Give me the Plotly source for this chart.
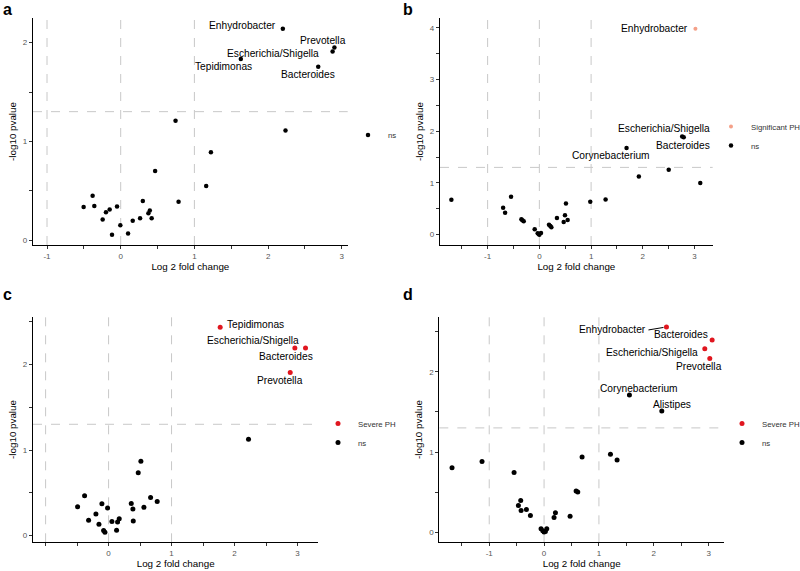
import plotly.graph_objects as go

# ---------------- data ----------------
# Panel a
a_x = [2.20, 2.90, 2.875, 1.63, 2.68, 0.744, 2.236, 1.224, 1.16, 0.467, 0.785, -0.381, -0.503, -0.358,
       -0.20, -0.15, -0.245, -0.05, -0.118, -0.005, 0.10, 0.163, 0.263, 0.30, 0.376, 0.395, 0.42]
a_y = [2.14, 1.95, 1.91, 1.835, 1.755, 1.21, 1.11, 0.89, 0.548, 0.70, 0.387, 0.45, 0.336, 0.346,
       0.282, 0.309, 0.208, 0.34, 0.054, 0.151, 0.067, 0.195, 0.222, 0.397, 0.272, 0.30, 0.222]
a_group = ["ns"] * len(a_x)
a_label = ["Enhydrobacter", "Prevotella", "Escherichia/Shigella", "Tepidimonas", "Bacteroides"] + [""] * 22

# Panel b
b_x = [3.016, 2.76, 2.79, 1.685, 2.50, 1.923, 3.11, 1.28, 0.984, -1.70, -0.547, -0.70, -0.662, -0.347,
       -0.328, -0.302, -0.09, -0.032, 0.0, 0.032, -0.013, 0.186, 0.212, 0.232, 0.34, 0.495, 0.47, 0.547, 0.514]
b_y = [3.98, 1.897, 1.884, 1.678, 1.254, 1.125, 0.997, 0.68, 0.637, 0.675, 0.733, 0.52, 0.424, 0.296,
       0.277, 0.257, 0.103, 0.026, 0.0, 0.032, 0.013, 0.193, 0.167, 0.141, 0.32, 0.373, 0.244, 0.283, 0.604]
b_group = ["Significant PH"] + ["ns"] * 28
b_label = ["Enhydrobacter", "Escherichia/Shigella", "Bacteroides", "Corynebacterium"] + [""] * 25

# Panel c
c_x = [1.772, 2.958, 3.127, 2.884, 2.222, 0.513, 0.471, -0.381, 0.667, 0.772, -0.492, -0.106, -0.016,
       0.36, 0.386, 0.561, -0.201, -0.317, -0.153, 0.053, 0.143, 0.169, 0.392, -0.079, -0.058, 0.127]
c_y = [2.437, 2.193, 2.193, 1.907, 1.126, 0.867, 0.735, 0.464, 0.445, 0.398, 0.337, 0.371, 0.321,
       0.375, 0.309, 0.329, 0.251, 0.178, 0.131, 0.162, 0.159, 0.197, 0.170, 0.058, 0.039, 0.062]
c_group = ["Severe PH"] * 4 + ["ns"] * 22
c_label = ["Tepidimonas", "Escherichia/Shigella", "Bacteroides", "Prevotella"] + [""] * 22

# Panel d
d_x = [2.231, 3.064, 2.93, 3.021, 1.556, 2.146, -1.678, -1.131, -0.547, 0.693, 1.21, 1.331, 0.584, 0.614,
       -0.426, -0.468, -0.419, -0.322, -0.249, 0.207, 0.182, 0.474, -0.055, -0.024, 0.0, 0.049, 0.024]
d_y = [2.562, 2.40, 2.289, 2.169, 1.711, 1.512, 0.802, 0.88, 0.744, 0.938, 0.971, 0.90, 0.512, 0.50,
       0.393, 0.331, 0.269, 0.281, 0.207, 0.24, 0.182, 0.198, 0.041, 0.017, 0.0, 0.041, 0.008]
d_group = ["Severe PH"] * 4 + ["ns"] * 23
d_label = ["Enhydrobacter", "Bacteroides", "Escherichia/Shigella", "Prevotella", "Corynebacterium",
           "Alistipes"] + [""] * 21

x_ticks = [-1, 0, 1, 2, 3]
x_ticks_c = [0, 1, 2, 3]
fc_cut = [-1, 0, 1]
p_cut = 1.301

# ---------------- styles ----------------
W, H = 800, 571
FONT = "Liberation Sans, Arial, sans-serif"
group_color = {"ns": "black", "Severe PH": "#E0161F", "Significant PH": "#F4A088"}

panels = [
    dict(key="a", x=a_x, y=a_y, g=a_group, lab=a_label, xd=[33, 347.7], yd=[18, 245],
         xr=[-1.19, 3.08], yr=[-0.05, 2.25], yt=[0, 1, 2], xt=x_ticks, ms=4.5,
         leg=(348, 135), order=["ns"],
         offs={"Enhydrobacter": ("right", -5, 3), "Prevotella": ("center", -11, 7),
               "Escherichia/Shigella": ("right", -12, -2), "Tepidimonas": ("center", -17, -8),
               "Bacteroides": ("center", -10, -8)}),
    dict(key="b", x=b_x, y=b_y, g=b_group, lab=b_label, xd=[440, 712.7], yd=[18, 245],
         xr=[-1.92, 3.35], yr=[-0.2, 4.19], yt=[0, 1, 2, 3, 4], xt=x_ticks, ms=4.5,
         leg=(711, 136), order=["Significant PH", "ns"],
         offs={"Enhydrobacter": ("right", -5, 0), "Escherichia/Shigella": ("center", -18, 8),
               "Bacteroides": ("center", -1, -8), "Corynebacterium": ("center", -16, -8)}),
    dict(key="c", x=c_x, y=c_y, g=c_group, lab=c_label, xd=[33, 318.3], yd=[316.7, 542.3],
         xr=[-1.2, 3.33], yr=[-0.08, 2.56], yt=[0, 1, 2], xt=x_ticks_c, ms=5,
         leg=(318, 433), order=["Severe PH", "ns"],
         offs={"Tepidimonas": ("left", 5, 3), "Escherichia/Shigella": ("center", -42, 8),
               "Bacteroides": ("center", -20, -8), "Prevotella": ("center", -10, -8)}),
    dict(key="d", x=d_x, y=d_y, g=d_group, lab=d_label, xd=[439.3, 724], yd=[316.7, 542.3],
         xr=[-1.91, 3.28], yr=[-0.128, 2.69], yt=[0, 1, 2], xt=x_ticks, ms=5,
         leg=(722, 433), order=["Severe PH", "ns"],
         offs={"Enhydrobacter": ("arrow", -18, -3), "Bacteroides": ("center", -31, 5),
               "Escherichia/Shigella": ("right", -5, -4), "Prevotella": ("center", -11, -8),
               "Corynebacterium": ("center", 10, 7), "Alistipes": ("center", 10, 7)}),
]

fig = go.Figure()
layout = dict(width=W, height=H, margin=dict(l=0, r=0, t=0, b=0, autoexpand=False),
              paper_bgcolor="white", plot_bgcolor="white", font=dict(family=FONT, color="black"),
              showlegend=True)
annotations, shapes = [], []
LAB_SIZE = 10.2

for i, p in enumerate(panels):
    n = "" if i == 0 else str(i + 1)
    xa, ya = "x" + n, "y" + n
    leg = "legend" + n
    for grp in p["order"]:
        idx = [k for k, gg in enumerate(p["g"]) if gg == grp]
        fig.add_trace(go.Scatter(
            x=[p["x"][k] for k in idx], y=[p["y"][k] for k in idx], mode="markers",
            name=grp, xaxis=xa, yaxis=ya, legend=leg,
            marker=dict(color=group_color[grp], size=p["ms"] if grp != "Significant PH" else 4,
                        line=dict(width=0)),
            hoverinfo="skip"))
    xdom = [p["xd"][0] / W, p["xd"][1] / W]
    ydom = [1 - p["yd"][1] / H, 1 - p["yd"][0] / H]
    axis_common = dict(showgrid=False, zeroline=False, showline=True, linecolor="black",
                       linewidth=1.2, ticks="outside", ticklen=3, tickcolor="#333333",
                       automargin=False,
                       tickfont=dict(size=8, color="#555555", family=FONT),
                       minor=dict(dtick=0.5, ticks="outside", ticklen=3, tickcolor="#333333"))
    layout["xaxis" + n] = dict(axis_common, domain=xdom, anchor=ya, range=p["xr"],
                               tickvals=p["xt"], ticktext=[str(t) for t in p["xt"]],
                               title=dict(text="Log 2 fold change", font=dict(size=9.8), standoff=2))
    layout["yaxis" + n] = dict(axis_common, domain=ydom, anchor=xa, range=p["yr"],
                               tickvals=p["yt"], ticktext=[str(t) for t in p["yt"]],
                               title=dict(text="-log10 pvalue", font=dict(size=9.8), standoff=4))
    layout[leg] = dict(x=p["leg"][0] / W, y=1 - p["leg"][1] / H, xanchor="left", yanchor="middle",
                       font=dict(size=7.8, color="#333333"), bgcolor="rgba(0,0,0,0)",
                       tracegroupgap=0)
    # reference lines
    for v in fc_cut:
        shapes.append(dict(type="line", xref=xa, yref=ya + " domain", x0=v, x1=v, y0=0, y1=1,
                           line=dict(color="#C8C8C8", width=1, dash="dash"), layer="below"))
    shapes.append(dict(type="line", xref=xa + " domain", yref=ya, x0=0, x1=1, y0=p_cut, y1=p_cut,
                       line=dict(color="#C8C8C8", width=1, dash="dash"), layer="below"))
    # point labels
    for xv, yv, lab in zip(p["x"], p["y"], p["lab"]):
        if not lab:
            continue
        anc, dx, dy = p["offs"][lab]
        if anc == "arrow":
            annotations.append(dict(x=xv, y=yv, xref=xa, yref=ya, text=lab, showarrow=True,
                                    arrowhead=0, arrowwidth=1, arrowcolor="black", ax=dx, ay=-dy,
                                    xanchor="right", yanchor="middle", standoff=3,
                                    font=dict(size=LAB_SIZE, color="black", family=FONT)))
        else:
            annotations.append(dict(x=xv, y=yv, xref=xa, yref=ya, text=lab, showarrow=False,
                                    xanchor=anc, yanchor="middle", xshift=dx, yshift=dy,
                                    font=dict(size=LAB_SIZE, color="black", family=FONT)))
    # panel letter
    annotations.append(dict(x=(1 if i % 2 == 0 else 401) / W, y=1 - (-1 if i < 2 else 284) / H,
                            xref="paper", yref="paper", text="<b>%s</b>" % p["key"], showarrow=False,
                            xanchor="left", yanchor="top", font=dict(size=16, color="black", family=FONT)))

layout["annotations"] = annotations
layout["shapes"] = shapes
fig.update_layout(**layout)
fig.write_html("out.html", config={"displayModeBar": False},
               post_script="document.body.style.margin='0px';document.body.style.overflow='hidden';")
